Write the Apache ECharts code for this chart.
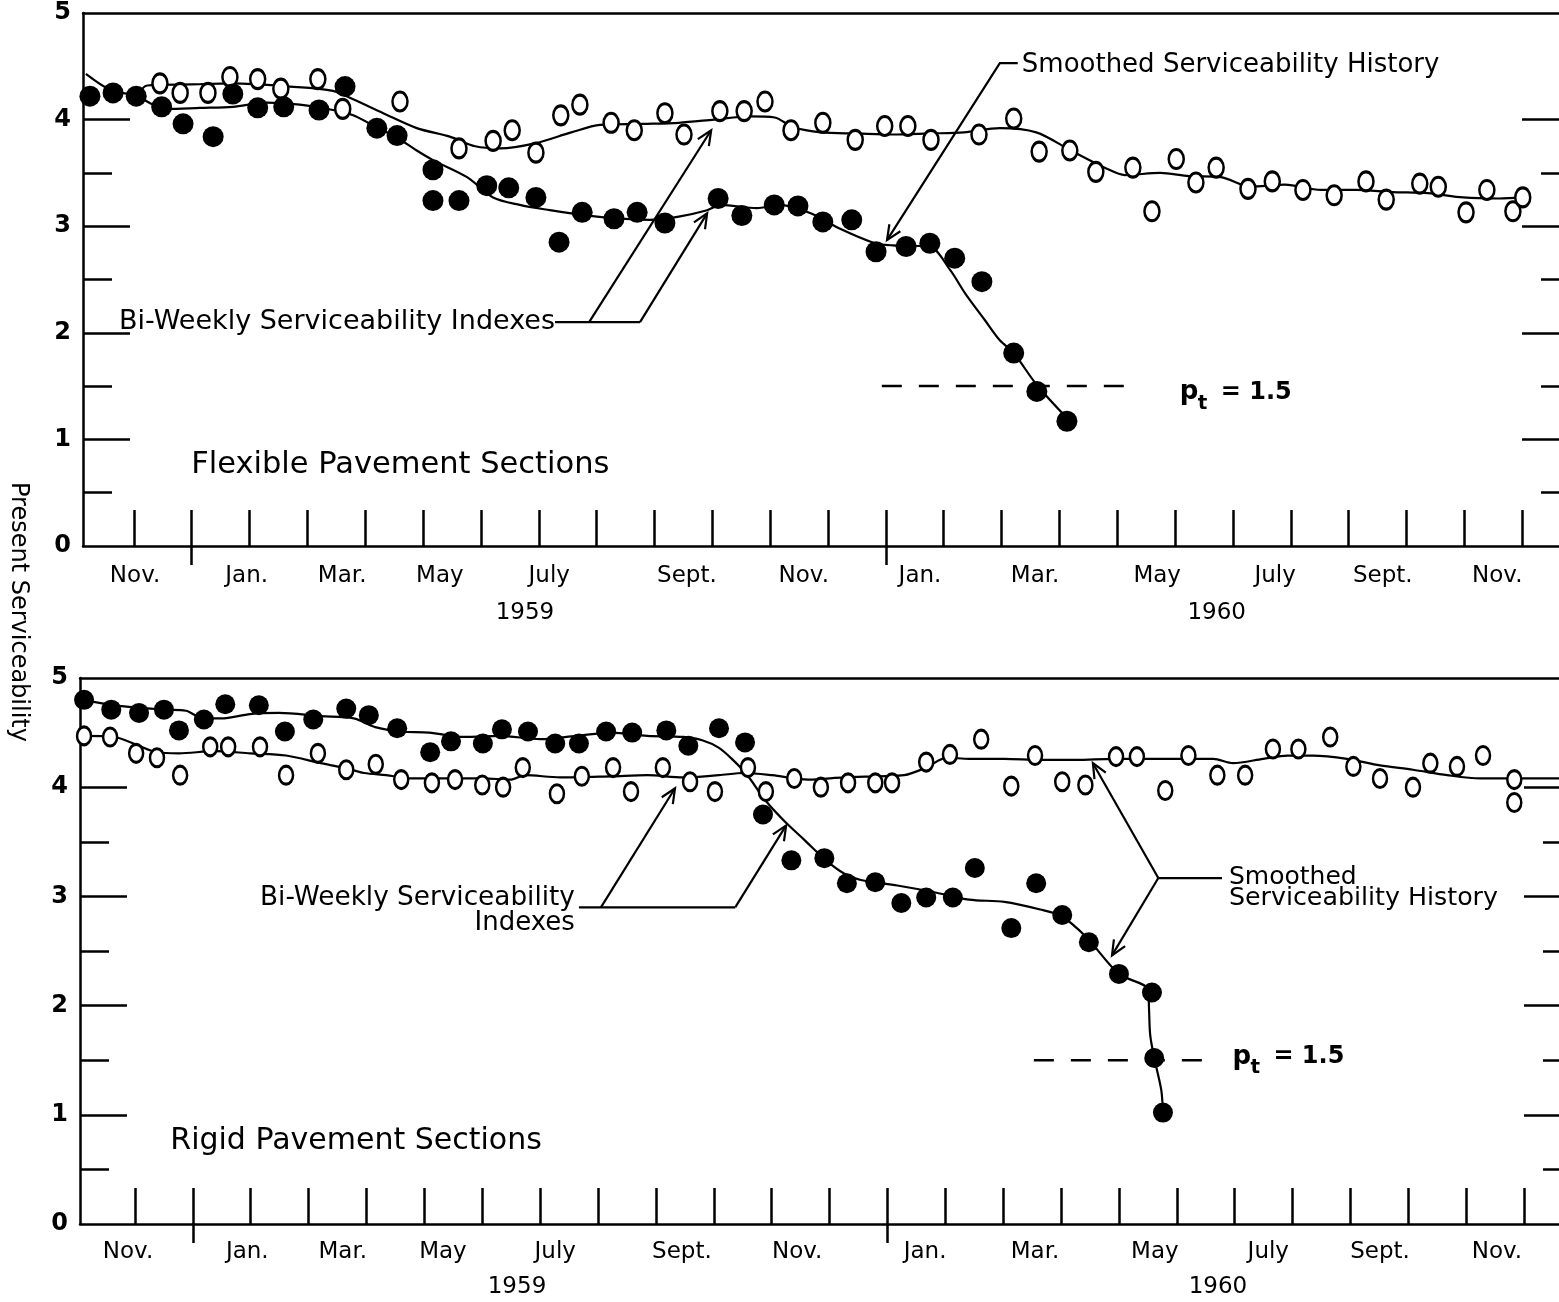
<!DOCTYPE html>
<html>
<head>
<meta charset="utf-8">
<script src="https://cdn.jsdelivr.net/npm/echarts@6/dist/echarts.min.js"></script>
<style>
html,body{margin:0;padding:0;background:#fff;}
#chart{width:1559px;height:1302px;}
</style>
</head>
<body>
<div id="chart"></div>
<script>
// x = months after 1 Nov 1958 (1 = 1 Dec 1958, 2 = 1 Jan 1959, 14 = 1 Jan 1960)
const monthTicks = [1,2,3,4,5,6,7,8,9,10,11,12,13,14,15,16,17,18,19,20,21,22,23,24,25];
const yearTicks = [2, 14];
const monthNames = ['Nov.','Jan.','Mar.','May','July','Sept.','Nov.','Jan.','Mar.','May','July','Sept.','Nov.'];
const flexMonthPos  = [1.02,2.95,4.60,6.29,8.18,10.56,12.58,14.59,16.58,18.69,20.73,22.59,24.57];
const rigidMonthPos = [0.88,2.94,4.59,6.32,8.26,10.45,12.44,14.65,16.55,18.62,20.58,22.51,24.53];
const yearNames = ['1959','1960'];
const flexYearPos  = [7.76,19.72];
const rigidYearPos = [7.60,19.71];
const yLabelValues = [0,1,2,3,4,5];
const yMajorTicks = [1,2,3,4];
const yMinorTicks = [0.5,1.5,2.5,3.5];
const ptValue = 1.5;
const flexPtRange  = [13.93,18.29];
const rigidPtRange = [16.53,19.71];

// Flexible pavement sections
const flexFilled = [[0.24,4.22],[0.64,4.25],[1.04,4.22],[1.48,4.12],[1.85,3.96],[2.37,3.84],[2.71,4.24],[3.14,4.11],[3.59,4.12],[4.20,4.09],[4.65,4.31],[5.20,3.92],[5.55,3.85],[6.17,3.53],[6.17,3.24],[6.62,3.24],[7.10,3.38],[7.48,3.36],[7.95,3.27],[8.35,2.85],[8.75,3.13],[9.30,3.07],[9.70,3.13],[10.18,3.03],[11.10,3.26],[11.51,3.10],[12.07,3.20],[12.48,3.19],[12.91,3.04],[13.41,3.06],[13.83,2.76],[14.35,2.81],[14.76,2.84],[15.19,2.70],[15.66,2.48],[16.21,1.81],[16.61,1.45],[17.13,1.17]];
const flexOpen = [[1.45,4.34],[1.80,4.25],[2.28,4.25],[2.66,4.40],[3.14,4.38],[3.54,4.29],[4.18,4.38],[4.61,4.10],[5.60,4.17],[6.62,3.73],[7.21,3.80],[7.54,3.90],[7.95,3.69],[8.38,4.04],[8.71,4.14],[9.25,3.97],[9.65,3.90],[10.18,4.06],[10.51,3.86],[11.13,4.08],[11.55,4.08],[11.91,4.17],[12.36,3.90],[12.91,3.97],[13.47,3.81],[13.98,3.94],[14.38,3.94],[14.78,3.81],[15.61,3.86],[16.21,4.01],[16.65,3.70],[17.18,3.71],[17.63,3.51],[18.27,3.55],[18.60,3.14],[19.02,3.63],[19.36,3.41],[19.71,3.55],[20.26,3.35],[20.68,3.42],[21.21,3.34],[21.75,3.29],[22.30,3.42],[22.65,3.25],[23.23,3.40],[23.55,3.37],[24.03,3.13],[24.39,3.34],[24.84,3.14],[25.01,3.27]];
const flexFilledSmooth = [[0.17,4.43],[0.59,4.28],[1.05,4.22],[1.33,4.14],[1.57,4.10],[2.14,4.11],[2.71,4.12],[3.30,4.16],[3.87,4.14],[4.44,4.09],[4.79,4.04],[5.22,3.92],[5.55,3.83],[5.89,3.71],[6.17,3.62],[6.76,3.46],[7.21,3.27],[7.67,3.20],[8.19,3.15],[8.56,3.12],[9.18,3.08],[9.92,3.06],[10.42,3.09],[10.91,3.15],[11.15,3.20],[11.77,3.17],[12.15,3.20],[12.71,3.12],[13.19,2.98],[13.81,2.84],[14.12,2.82],[14.75,2.81],[15.11,2.59],[15.37,2.37],[15.71,2.12],[15.97,1.93],[16.21,1.81],[16.61,1.51],[17.13,1.20]];
const flexOpenSmooth = [[1.05,4.22],[1.23,4.32],[1.97,4.33],[2.71,4.34],[3.70,4.31],[4.44,4.27],[4.79,4.19],[5.31,4.06],[5.89,3.92],[6.46,3.84],[6.90,3.75],[7.33,3.73],[7.95,3.78],[8.56,3.88],[9.06,3.95],[9.80,3.96],[10.42,3.97],[11.03,4.00],[11.65,4.03],[12.08,4.02],[12.39,3.93],[12.88,3.88],[13.50,3.87],[14.12,3.86],[14.75,3.87],[15.35,3.88],[15.97,3.92],[16.60,3.88],[17.20,3.71],[17.82,3.54],[18.13,3.48],[18.74,3.50],[19.24,3.47],[19.79,3.46],[20.30,3.37],[20.90,3.39],[21.52,3.34],[22.13,3.34],[22.75,3.32],[23.37,3.31],[23.98,3.27],[24.60,3.26],[25.01,3.27]];

// Rigid pavement sections
const rigidFilled = [[0.12,4.80],[0.59,4.71],[1.07,4.68],[1.50,4.71],[1.76,4.52],[2.19,4.62],[2.56,4.76],[3.14,4.75],[3.59,4.51],[4.08,4.62],[4.65,4.72],[5.04,4.66],[5.53,4.54],[6.10,4.32],[6.46,4.42],[7.01,4.40],[7.34,4.53],[7.79,4.51],[8.26,4.40],[8.67,4.40],[9.14,4.51],[9.59,4.50],[10.18,4.52],[10.56,4.38],[11.09,4.54],[11.54,4.41],[11.85,3.75],[12.34,3.33],[12.91,3.35],[13.30,3.12],[13.79,3.13],[14.24,2.94],[14.67,2.99],[15.13,2.99],[15.51,3.26],[16.14,2.71],[16.57,3.12],[17.02,2.83],[17.48,2.58],[18.00,2.29],[18.57,2.12],[18.61,1.52],[18.76,1.02]];
const rigidOpen = [[0.12,4.47],[0.57,4.46],[1.02,4.31],[1.38,4.27],[1.78,4.11],[2.30,4.37],[2.61,4.37],[3.16,4.37],[3.61,4.11],[4.16,4.31],[4.65,4.16],[5.16,4.21],[5.60,4.07],[6.13,4.04],[6.53,4.07],[7.00,4.02],[7.36,4.00],[7.70,4.18],[8.29,3.94],[8.72,4.10],[9.26,4.18],[9.57,3.96],[10.12,4.18],[10.59,4.05],[11.02,3.96],[11.59,4.18],[11.90,3.96],[12.39,4.08],[12.85,4.00],[13.32,4.04],[13.79,4.04],[14.08,4.04],[14.67,4.23],[15.08,4.30],[15.62,4.44],[16.14,4.01],[16.55,4.29],[17.02,4.05],[17.42,4.02],[17.95,4.28],[18.31,4.28],[18.80,3.97],[19.20,4.29],[19.70,4.11],[20.18,4.11],[20.66,4.35],[21.10,4.35],[21.65,4.46],[22.05,4.19],[22.51,4.08],[23.08,4.00],[23.38,4.22],[23.84,4.19],[24.29,4.29],[24.83,4.07],[24.83,3.86]];
const rigidFilledSmooth = [[0.12,4.80],[0.64,4.75],[1.50,4.71],[1.88,4.70],[2.12,4.64],[2.49,4.63],[2.99,4.67],[3.49,4.68],[4.21,4.65],[4.78,4.63],[5.15,4.55],[5.58,4.51],[6.08,4.50],[6.69,4.46],[7.31,4.47],[8.00,4.44],[8.62,4.47],[9.23,4.50],[9.85,4.47],[10.47,4.46],[10.80,4.43],[11.09,4.36],[11.33,4.25],[11.58,4.11],[11.89,3.88],[12.20,3.70],[12.56,3.52],[12.94,3.33],[13.25,3.21],[13.54,3.15],[14.17,3.10],[14.79,3.04],[15.41,2.97],[16.02,2.95],[16.64,2.88],[17.00,2.82],[17.43,2.63],[18.00,2.29],[18.50,2.15],[18.52,1.96],[18.54,1.73],[18.61,1.52],[18.73,1.23],[18.76,1.02]];
const rigidOpenSmooth = [[0.12,4.47],[0.64,4.46],[1.02,4.39],[1.38,4.32],[1.76,4.31],[2.37,4.33],[2.99,4.31],[3.61,4.29],[4.21,4.22],[4.59,4.18],[4.96,4.13],[5.34,4.11],[5.77,4.08],[6.37,4.08],[7.00,4.08],[7.50,4.07],[7.74,4.11],[8.34,4.09],[9.23,4.10],[9.85,4.11],[10.47,4.09],[11.09,4.11],[11.52,4.13],[12.01,4.11],[12.63,4.07],[13.25,4.09],[13.86,4.10],[14.29,4.11],[14.67,4.18],[15.03,4.27],[15.41,4.26],[16.02,4.26],[16.64,4.25],[17.26,4.25],[17.90,4.26],[18.49,4.26],[19.06,4.26],[19.63,4.26],[19.97,4.22],[20.49,4.26],[20.91,4.29],[21.35,4.29],[21.94,4.26],[22.51,4.20],[23.08,4.16],[23.67,4.11],[24.24,4.08],[24.81,4.08],[25.61,4.08]];

const FONT = 'DejaVu Sans';
const INK = '#000';

function labelFor(vals, names) {
  return function (v) {
    let best = 0, d = Infinity;
    vals.forEach(function (p, i) { const dd = Math.abs(p - v); if (dd < d) { d = dd; best = i; } });
    return names[best];
  };
}

const panels = [
  { grid: { left: 83, top: 13, width: 1497, height: 533 }, xmin: 0.12,
    monthPos: flexMonthPos, yearPos: flexYearPos, labelMargin: 19, yearMargin: 56,
    filled: flexFilled, open: flexOpen, filledSmooth: flexFilledSmooth, openSmooth: flexOpenSmooth,
    pt: flexPtRange, dot: 21, ring: [15, 19] },
  { grid: { left: 80, top: 678, width: 1502, height: 546 }, xmin: 0.05,
    monthPos: rigidMonthPos, yearPos: rigidYearPos, labelMargin: 17, yearMargin: 52,
    filled: rigidFilled, open: rigidOpen, filledSmooth: rigidFilledSmooth, openSmooth: rigidOpenSmooth,
    pt: rigidPtRange, dot: 20, ring: [14, 18] }
];

const axisLine = { show: true, onZero: false, lineStyle: { color: INK, width: 2.5 } };
const tickStyle = { color: INK, width: 2.5 };
const ringPath = 'path://M50,0 C77.6,0 100,22.4 100,50 C100,77.6 77.6,100 50,100 C22.4,100 0,77.6 0,50 C0,22.4 22.4,0 50,0 Z';

const grids = [], xAxes = [], yAxes = [], series = [];
panels.forEach(function (p, g) {
  grids.push(Object.assign({ outerBoundsMode: 'none', containLabel: false }, p.grid));
  const xBase = { gridIndex: g, type: 'value', min: p.xmin, max: 26, splitLine: { show: false } };
  xAxes.push(Object.assign({}, xBase, {
    position: 'bottom', axisLine: axisLine,
    axisTick: { show: true, inside: true, length: 36, customValues: monthTicks, lineStyle: tickStyle },
    axisLabel: { show: true, customValues: p.monthPos, formatter: labelFor(p.monthPos, monthNames),
      margin: p.labelMargin, color: INK, fontFamily: FONT, fontSize: 23 }
  }));
  xAxes.push(Object.assign({}, xBase, {
    position: 'bottom', axisLine: { show: false, onZero: false },
    axisTick: { show: true, inside: false, length: 19, customValues: yearTicks, lineStyle: tickStyle },
    axisLabel: { show: true, customValues: p.yearPos, formatter: labelFor(p.yearPos, yearNames),
      margin: p.yearMargin, color: INK, fontFamily: FONT, fontSize: 23 }
  }));
  xAxes.push(Object.assign({}, xBase, {
    position: 'top', axisLine: axisLine, axisTick: { show: false }, axisLabel: { show: false }
  }));
  const yBase = { gridIndex: g, type: 'value', min: 0, max: 5, splitLine: { show: false } };
  yAxes.push(Object.assign({}, yBase, {
    position: 'left', axisLine: axisLine,
    axisTick: { show: true, inside: true, length: 47, customValues: yMajorTicks, lineStyle: tickStyle },
    axisLabel: { show: true, customValues: yLabelValues, margin: 12, color: INK, fontFamily: FONT, fontSize: 24, fontWeight: 'bold' }
  }));
  yAxes.push(Object.assign({}, yBase, {
    position: 'left', axisLine: { show: false, onZero: false },
    axisTick: { show: true, inside: true, length: 29, customValues: yMinorTicks, lineStyle: tickStyle },
    axisLabel: { show: false }
  }));
  yAxes.push(Object.assign({}, yBase, {
    position: 'right', axisLine: { show: false, onZero: false },
    axisTick: { show: true, inside: true, length: 58, customValues: yMajorTicks, lineStyle: tickStyle },
    axisLabel: { show: false }
  }));
  yAxes.push(Object.assign({}, yBase, {
    position: 'right', axisLine: { show: false, onZero: false },
    axisTick: { show: true, inside: true, length: 39, customValues: yMinorTicks, lineStyle: tickStyle },
    axisLabel: { show: false }
  }));
  const xi = g * 3, yi = g * 4;
  const lineBase = { type: 'line', xAxisIndex: xi, yAxisIndex: yi, symbol: 'none', showSymbol: false,
    smooth: 0.3, silent: true, z: 2 };
  series.push(Object.assign({}, lineBase, { name: 'open smooth ' + g, data: p.openSmooth, lineStyle: { color: INK, width: 2.2 } }));
  series.push(Object.assign({}, lineBase, { name: 'filled smooth ' + g, data: p.filledSmooth, lineStyle: { color: INK, width: 2.2 } }));
  series.push(Object.assign({}, lineBase, { name: 'pt ' + g, smooth: false,
    data: [[p.pt[0], ptValue], [p.pt[1], ptValue]], lineStyle: { color: INK, width: 2.5, type: [20, 17] } }));
  series.push({ type: 'scatter', name: 'open ' + g, xAxisIndex: xi, yAxisIndex: yi, data: p.open, clip: false,
    symbol: ringPath, symbolSize: p.ring, silent: true, z: 3,
    itemStyle: { color: '#fff', borderColor: INK, borderWidth: 2.8, opacity: 1 } });
  series.push({ type: 'scatter', name: 'filled ' + g, xAxisIndex: xi, yAxisIndex: yi, data: p.filled, clip: false,
    symbol: 'circle', symbolSize: p.dot, silent: true, z: 4,
    itemStyle: { color: INK, opacity: 1 } });
});

const chart = echarts.init(document.getElementById('chart'), null, { renderer: 'canvas' });
chart.setOption({
  animation: false,
  backgroundColor: '#fff',
  grid: grids, xAxis: xAxes, yAxis: yAxes, series: series
});

// ---------- annotations (anchored in data coordinates) ----------
const annotations = [
  { panel: 0, texts: [
      { t: 'Smoothed Serviceability History', at: [16.35, 4.51], align: 'left', size: 26 },
      { t: 'Bi-Weekly Serviceability Indexes', at: [8.28, 2.10], align: 'right', size: 27 },
      { t: 'Flexible Pavement Sections', at: [1.99, 0.76], align: 'left', size: 30.5 }
    ],
    lines: [
      { pts: [[16.28, 4.53], [15.97, 4.53], [14.02, 2.87]], arrow: true },
      { pts: [[8.28, 2.10], [9.75, 2.10]], arrow: false },
      { pts: [[8.87, 2.10], [10.98, 3.90]], arrow: true },
      { pts: [[9.75, 2.10], [10.91, 3.12]], arrow: true }
    ],
    pt: [19.08, 1.44] },
  { panel: 1, texts: [
      { t: 'Bi-Weekly Serviceability', at: [8.60, 2.98], align: 'right', size: 26.3 },
      { t: 'Indexes', at: [8.60, 2.75], align: 'right', size: 26 },
      { t: 'Smoothed', at: [19.90, 3.17], align: 'left', size: 25 },
      { t: 'Serviceability History', at: [19.90, 2.985], align: 'left', size: 25.3 },
      { t: 'Rigid Pavement Sections', at: [1.61, 0.76], align: 'left', size: 30 }
    ],
    lines: [
      { pts: [[8.67, 2.90], [11.37, 2.90]], arrow: false },
      { pts: [[9.05, 2.90], [10.33, 3.99]], arrow: true },
      { pts: [[11.37, 2.90], [12.25, 3.65]], arrow: true },
      { pts: [[19.78, 3.168], [18.68, 3.168]], arrow: false },
      { pts: [[18.68, 3.168], [17.55, 4.22]], arrow: true },
      { pts: [[18.68, 3.168], [17.88, 2.46]], arrow: true }
    ],
    pt: [19.96, 1.53] }
];

function toPx(panel, v) { return chart.convertToPixel({ seriesIndex: panel * 5 }, v); }
function arrowHead(a, b, len, ang) {
  const dx = b[0] - a[0], dy = b[1] - a[1], L = Math.hypot(dx, dy), ux = dx / L, uy = dy / L;
  const c = Math.cos(ang), s = Math.sin(ang);
  return [[b[0] - len * (ux * c - uy * s), b[1] - len * (uy * c + ux * s)], b,
          [b[0] - len * (ux * c + uy * s), b[1] - len * (uy * c - ux * s)]];
}
function txt(x, y, text, size, align, weight) {
  return { type: 'text', x: x, y: y, silent: true, z: 10,
    style: { text: text, fill: INK, font: (weight || 'normal') + ' ' + size + 'px "' + FONT + '"',
      align: align, verticalAlign: 'middle', textAlign: align, textVerticalAlign: 'middle' } };
}
const gfx = [];
annotations.forEach(function (a) {
  a.lines.forEach(function (l) {
    const pts = l.pts.map(function (v) { return toPx(a.panel, v); });
    gfx.push({ type: 'polyline', silent: true, z: 10, shape: { points: pts }, style: { stroke: INK, lineWidth: 2.2, fill: null } });
    if (l.arrow) {
      gfx.push({ type: 'polyline', silent: true, z: 10,
        shape: { points: arrowHead(pts[pts.length - 2], pts[pts.length - 1], 16, 0.42) },
        style: { stroke: INK, lineWidth: 2.2, fill: null } });
    }
  });
  a.texts.forEach(function (t) {
    const p = toPx(a.panel, t.at);
    gfx.push(txt(p[0], p[1], t.t, t.size, t.align));
  });
  const q = toPx(a.panel, a.pt);
  gfx.push(txt(q[0], q[1], 'p', 26, 'left', 'bold'));
  gfx.push(txt(q[0] + 18, q[1] + 11, 't', 20, 'left', 'bold'));
  gfx.push(txt(q[0] + 41, q[1], '= 1.5', 24, 'left', 'bold'));
});
// shared vertical axis title between the two panels
const yTop = toPx(0, [0.12, 0]), yBot = toPx(1, [0.05, 5]);
gfx.push({ type: 'text', x: 18, y: (yTop[1] + yBot[1]) / 2, rotation: -Math.PI / 2, silent: true,
  style: { text: 'Present Serviceability', fill: INK, font: 'normal 24px "' + FONT + '"',
    align: 'center', verticalAlign: 'middle', textAlign: 'center', textVerticalAlign: 'middle' } });
chart.setOption({ graphic: gfx });
</script>
</body>
</html>
